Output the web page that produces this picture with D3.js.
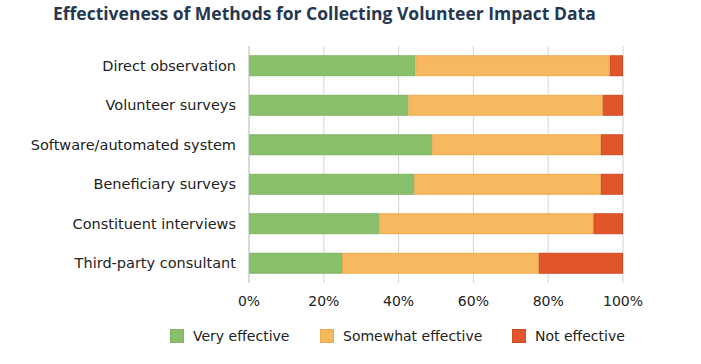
<!DOCTYPE html>
<html>
<head>
<meta charset="utf-8">
<script src="https://d3js.org/d3.v7.min.js"></script>
<style>
body { margin: 0; background: #fff; }
svg text { font-family: "DejaVu Sans", Verdana, sans-serif; }
</style>
</head>
<body>
<script>
// data
var methods = ["Direct observation", "Volunteer surveys", "Software/automated system",
               "Beneficiary surveys", "Constituent interviews", "Third-party consultant"];
var veryEffective     = [44.5, 42.6, 49, 44.2, 34.8, 24.9];
var somewhatEffective = [52, 52, 45.1, 49.9, 57.3, 52.6];
var notEffective      = [3.5, 5.4, 5.9, 5.9, 7.9, 22.5];
var seriesNames = ["Very effective", "Somewhat effective", "Not effective"];
var xTicks = [0, 20, 40, 60, 80, 100];

var colors = ["#89c06c", "#f8b860", "#e1552a"];
var strokes = ["#7fb262", "#eeaa52", "#cf4a22"];

var w = 701, h = 364;
var plotL = 249, plotR = 623, plotT = 46, plotB = 283;

var rows = methods.map(function (m, i) {
  return { method: m, v: veryEffective[i], s: somewhatEffective[i], n: notEffective[i] };
});

var stack = d3.stack().keys(["v", "s", "n"])(rows);

var x = d3.scaleLinear().domain([0, 100]).range([plotL, plotR]);
var y = d3.scaleBand().domain(methods).range([plotT, plotB]).paddingInner(0.47).paddingOuter(0.235);

var svg = d3.select("body").append("svg").attr("width", w).attr("height", h);

svg.append("text")
  .attr("x", 53).attr("y", 20)
  .style("font-family", "'Open Sans', sans-serif")
  .style("font-weight", "bold")
  .style("font-size", "17.5px")
  .attr("fill", "#253850")
  .text("Effectiveness of Methods for Collecting Volunteer Impact Data");

// gridlines
svg.append("g")
  .selectAll("line")
  .data(xTicks.slice(1))
  .enter().append("line")
  .attr("x1", d => x(d)).attr("x2", d => x(d))
  .attr("y1", plotT).attr("y2", plotB)
  .attr("stroke", "#d4d4d4").attr("stroke-width", 1);

svg.append("g")
  .selectAll("g")
  .data(stack)
  .enter().append("g")
  .attr("fill", (d, i) => colors[i])
  .attr("stroke", (d, i) => strokes[i])
  .selectAll("rect")
  .data(d => d)
  .enter().append("rect")
  .attr("x", d => x(d[0]) + 0.5)
  .attr("width", d => x(d[1]) - x(d[0]) - 1)
  .attr("y", d => y(d.data.method) + 0.5)
  .attr("height", y.bandwidth() - 1)
  .attr("stroke-width", 1);

// zero axis line
svg.append("line")
  .attr("x1", x(0)).attr("x2", x(0))
  .attr("y1", plotT).attr("y2", plotB)
  .attr("stroke", "#b5b5b5").attr("stroke-width", 1);

// y labels
svg.append("g")
  .selectAll("text")
  .data(methods)
  .enter().append("text")
  .attr("x", 236)
  .attr("y", d => y(d) + y.bandwidth() / 2)
  .attr("dy", "0.36em")
  .attr("text-anchor", "end")
  .style("font-size", "14.5px")
  .attr("fill", "#222")
  .text(d => d);

// x tick labels
svg.append("g")
  .selectAll("text")
  .data(xTicks)
  .enter().append("text")
  .attr("x", d => x(d))
  .attr("y", 306)
  .attr("text-anchor", "middle")
  .style("font-size", "14px")
  .attr("fill", "#222")
  .text(d => d + "%");

// legend
var legendX = [170, 320, 512];
var lg = svg.append("g")
  .selectAll("g")
  .data(seriesNames)
  .enter().append("g")
  .attr("transform", (d, i) => "translate(" + legendX[i] + ",329)");
lg.append("rect")
  .attr("x", 0.5).attr("y", 0.5)
  .attr("width", 13).attr("height", 13)
  .attr("fill", (d, i) => colors[i])
  .attr("stroke", (d, i) => strokes[i]);
lg.append("text")
  .attr("x", 23).attr("y", 12)
  .style("font-size", "14px")
  .attr("fill", "#222")
  .text(d => d);
</script>
</body>
</html>
